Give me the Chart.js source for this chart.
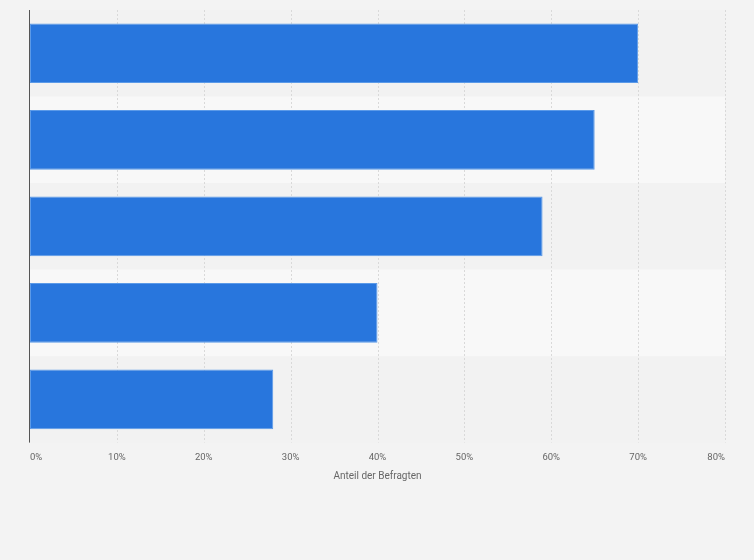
<!DOCTYPE html>
<html>
<head>
<meta charset="utf-8">
<script src="https://cdn.jsdelivr.net/npm/chart.js@4/dist/chart.umd.min.js"></script>
<style>
  html, body { margin: 0; padding: 0; background: #f3f3f3; }
  canvas { display: block; }
</style>
</head>
<body>
<canvas id="myChart" width="754" height="560"></canvas>
<script>
// five answers, labels not shown in the picture
const categories = ['A', 'B', 'C', 'D', 'E'];
const shares = [70, 65, 59, 40, 28];
const xTicks = [0, 10, 20, 30, 40, 50, 60, 70, 80];
const axisTitle = 'Anteil der Befragten';

// alternating row bands behind the bars
const bandPlugin = {
    id: 'bands',
    beforeDatasetsDraw(chart) {
        const { ctx, chartArea, scales } = chart;
        const y = scales.y;
        const step = y.getPixelForValue(1) - y.getPixelForValue(0);
        ctx.save();
        categories.forEach((c, i) => {
            const mid = y.getPixelForValue(i);
            ctx.fillStyle = i % 2 === 0 ? '#f2f2f2' : '#f8f8f8';
            ctx.fillRect(chartArea.left, mid - step / 2, chartArea.right - chartArea.left, step);
        });
        ctx.restore();
    }
};

// grid drawn over the bands but under the bars
const gridPlugin = {
    id: 'grid',
    beforeDatasetsDraw(chart) {
        const { ctx, chartArea, scales } = chart;
        ctx.save();
        ctx.strokeStyle = '#d9d9d9';
        ctx.lineWidth = 1;
        ctx.setLineDash([2, 2]);
        xTicks.forEach(t => {
            if (t === 0) return;
            const x = Math.round(scales.x.getPixelForValue(t)) + 0.5;
            ctx.beginPath();
            ctx.moveTo(x, chartArea.top);
            ctx.lineTo(x, chartArea.bottom);
            ctx.stroke();
        });
        ctx.setLineDash([]);
        ctx.strokeStyle = '#555555';
        const x0 = Math.round(scales.x.getPixelForValue(0)) - 0.5;
        ctx.beginPath();
        ctx.moveTo(x0, chartArea.top);
        ctx.lineTo(x0, chartArea.bottom);
        ctx.stroke();
        ctx.restore();
    }
};

const ctx = document.getElementById('myChart').getContext('2d');
const chart = new Chart(ctx, {
    type: 'bar',
    data: {
        labels: categories,
        datasets: [{
            data: shares,
            backgroundColor: '#2876dd',
            borderColor: '#5b9ae8',
            borderWidth: 1,
            borderSkipped: false,
            categoryPercentage: 0.69,
            barPercentage: 1
        }]
    },
    options: {
        indexAxis: 'y',
        responsive: false,
        animation: false,
        layout: { padding: { left: 30, right: 29, top: 10, bottom: 78 } },
        plugins: {
            legend: { display: false },
            tooltip: { enabled: false }
        },
        scales: {
            x: {
                min: 0,
                max: 80,
                afterBuildTicks: axis => { axis.ticks = xTicks.map(v => ({ value: v })); },
                grid: { display: false, drawTicks: false },
                border: { display: false },
                ticks: {
                    callback: v => v + '%',
                    color: '#666666',
                    font: { family: 'Roboto', size: 9.5 },
                    padding: 9,
                    align: 'inner',
                    maxRotation: 0
                },
                title: {
                    display: true,
                    text: axisTitle,
                    color: '#666666',
                    font: { family: 'Roboto', size: 10 },
                    padding: { top: -2, bottom: 0 }
                }
            },
            y: {
                afterFit: axis => { axis.width = 0; },
                grid: { display: false },
                border: { display: false },
                ticks: { display: false }
            }
        }
    },
    plugins: [bandPlugin, gridPlugin]
});
</script>
</body>
</html>
